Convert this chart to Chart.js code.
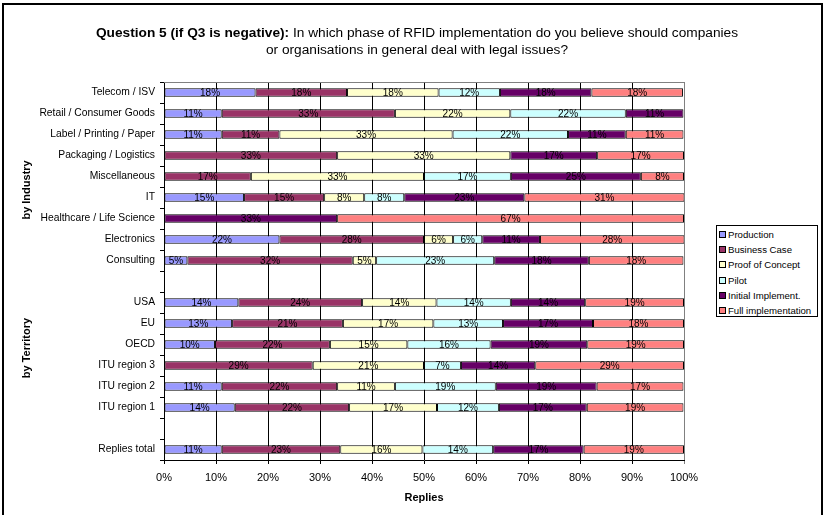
<!DOCTYPE html>
<html>
<head>
<meta charset="utf-8">
<script src="https://cdn.jsdelivr.net/npm/chart.js@4/dist/chart.umd.min.js"></script>
<style>
  body { margin: 0; background: #fff; font-family: "Liberation Sans", Arial, sans-serif; }
  #wrap { position: relative; width: 823px; height: 515px; overflow: hidden; }
  #frame { position: absolute; left: 2px; top: 3px; width: 817px; height: 530px; border: 2px solid #000; pointer-events: none; }
  #legend { position: absolute; left: 716px; top: 225px; width: 102px; height: 92px; border: 1px solid #000; background: #fff; box-sizing: border-box; padding: 1px 0 0 2px; }
  #legend div { font-size: 9.6px; height: 15.2px; line-height: 15.2px; white-space: nowrap; color: #000; }
  #legend span { display: inline-block; width: 5px; height: 5px; border: 1px solid #000; margin-right: 2px; vertical-align: 0px; }
</style>
</head>
<body>
<div id="wrap">
  <canvas id="chart" width="823" height="515"></canvas>
  <div id="legend"></div>
  <div id="frame"></div>
</div>
<script>
// Kategori (baris kosong = pemisah grup)
const categories = ["Telecom / ISV", "Retail / Consumer Goods", "Label / Printing / Paper", "Packaging / Logistics",
  "Miscellaneous", "IT", "Healthcare / Life Science", "Electronics", "Consulting", "",
  "USA", "EU", "OECD", "ITU region 3", "ITU region 2", "ITU region 1", "", "Replies total"];

const seriesNames = ["Production", "Business Case", "Proof of Concept", "Pilot", "Initial Implement.", "Full implementation"];
const seriesColors = ["#9999FF", "#993366", "#FFFFCC", "#CCFFFF", "#660066", "#FF8080"];

// Nilai (%) per fase
const production = [17.6, 11.1, 11.1, 0, 0, 15.4, 0, 22.2, 4.5, null, 14.3, 13.1, 9.8, 0, 11.1, 13.6, null, 11.1];
const businessCase = [17.6, 33.3, 11.1, 33.3, 16.7, 15.4, 0, 27.8, 31.8, null, 23.8, 21.3, 22.1, 28.6, 22.2, 22.0, null, 22.8];
const proofOfConcept = [17.6, 22.2, 33.3, 33.3, 33.3, 7.7, 0, 5.6, 4.5, null, 14.3, 17.4, 14.9, 21.4, 11.1, 16.9, null, 15.8];
const pilot = [11.8, 22.2, 22.2, 0, 16.7, 7.7, 0, 5.6, 22.7, null, 14.3, 13.4, 16.0, 7.1, 19.4, 11.9, null, 13.6];
const initialImpl = [17.6, 11.1, 11.1, 16.7, 25.0, 23.1, 33.3, 11.1, 18.2, null, 14.3, 17.3, 18.6, 14.3, 19.4, 16.9, null, 17.4];
const fullImpl = [17.6, 0, 11.1, 16.7, 8.3, 30.8, 66.7, 27.8, 18.2, null, 19.0, 17.5, 18.6, 28.6, 16.7, 18.6, null, 19.3];

const allSeries = [production, businessCase, proofOfConcept, pilot, initialImpl, fullImpl];

// Label grup di sumbu Y (posisi tengahnya dalam indeks kategori)
const groupLabels = ["by Industry", "by Territory"];
const groupCenters = [4.64, 12.17];

const titleBold = "Question 5 (if Q3 is negative):";
const titleRest = " In which phase of RFID implementation do you believe should companies";
const titleLine2 = "or organisations in general deal with legal issues?";
const xTitle = "Replies";

const FONT = "'Liberation Sans', Arial, sans-serif";

// Legend HTML
const legendEl = document.getElementById("legend");
seriesNames.forEach((name, i) => {
  const row = document.createElement("div");
  row.innerHTML = '<span style="background:' + seriesColors[i] + '"></span>' + name;
  legendEl.appendChild(row);
});

// Plugin: label persen di tengah tiap segmen, judul, label grup
const extrasPlugin = {
  id: "extras",
  afterDatasetsDraw(chart) {
    const ctx = chart.ctx;
    ctx.save();
    ctx.font = "10px " + FONT;
    ctx.fillStyle = "#000";
    ctx.textAlign = "center";
    ctx.textBaseline = "middle";
    chart.data.datasets.forEach((ds, di) => {
      const meta = chart.getDatasetMeta(di);
      meta.data.forEach((el, i) => {
        const v = ds.data[i];
        if (!v) return;
        ctx.fillText(Math.round(v) + "%", (el.x + el.base) / 2, el.y + 1);
      });
    });
    // border plot abu-abu (atas & kanan)
    const a = chart.chartArea;
    ctx.strokeStyle = "#808080";
    ctx.lineWidth = 1;
    ctx.beginPath();
    ctx.moveTo(a.left, a.top + 0.5);
    ctx.lineTo(a.right + 0.5, a.top + 0.5);
    ctx.lineTo(a.right + 0.5, a.bottom);
    ctx.stroke();
    ctx.restore();
  },
  afterDraw(chart) {
    const ctx = chart.ctx;
    ctx.save();
    ctx.fillStyle = "#000";
    ctx.textBaseline = "middle";
    // Judul
    const cx = 417;
    ctx.font = "bold 13.7px " + FONT;
    const wb = ctx.measureText(titleBold).width;
    ctx.font = "13.7px " + FONT;
    const wr = ctx.measureText(titleRest).width;
    let x0 = cx - (wb + wr) / 2;
    ctx.textAlign = "left";
    ctx.font = "bold 13.7px " + FONT;
    ctx.fillText(titleBold, x0, 33);
    ctx.font = "13.7px " + FONT;
    ctx.fillText(titleRest, x0 + wb, 33);
    ctx.textAlign = "center";
    ctx.fillText(titleLine2, cx, 50);
    // Label grup (vertikal)
    const y = chart.scales.y;
    ctx.font = "bold 11px " + FONT;
    groupLabels.forEach((g, i) => {
      const yc = y.getPixelForValue(groupCenters[i]);
      ctx.save();
      ctx.translate(27, yc);
      ctx.rotate(-Math.PI / 2);
      ctx.fillText(g, 0, 0);
      ctx.restore();
    });
    ctx.restore();
  }
};

new Chart(document.getElementById("chart"), {
  type: "bar",
  data: {
    labels: categories,
    datasets: allSeries.map((d, i) => ({
      label: seriesNames[i],
      data: d,
      backgroundColor: seriesColors[i],
      borderColor: "#000",
      borderWidth: 1,
      borderSkipped: false,
      barPercentage: 0.4,
      categoryPercentage: 1
    }))
  },
  options: {
    indexAxis: "y",
    responsive: false,
    animation: false,
    devicePixelRatio: 1,
    layout: { padding: { top: 82, right: 139, left: 0, bottom: 0 } },
    plugins: {
      legend: { display: false },
      tooltip: { enabled: false },
      title: { display: false }
    },
    scales: {
      x: {
        stacked: true,
        min: 0,
        max: 100,
        afterFit(scale) { scale.height = 55; },
        ticks: {
          stepSize: 10,
          color: "#000",
          padding: 7,
          font: { family: FONT, size: 11 },
          callback: v => v + "%"
        },
        grid: {
          color: ctx => (ctx.tick && ctx.tick.value === 100 ? "#808080" : "#000"),
          tickLength: 4,
          lineWidth: 1
        },
        border: { color: "#000" },
        title: {
          display: true,
          text: xTitle,
          color: "#000",
          font: { family: FONT, size: 11, weight: "bold" },
          padding: { top: 0, bottom: 10 }
        }
      },
      y: {
        stacked: true,
        afterFit(scale) { scale.width = 164; },
        ticks: {
          color: "#000",
          padding: 5,
          autoSkip: false,
          font: { family: FONT, size: 10.3 }
        },
        grid: {
          drawOnChartArea: false,
          offset: true,
          color: "#000",
          tickLength: 4
        },
        border: { color: "#000" }
      }
    }
  },
  plugins: [extrasPlugin]
});
</script>
</body>
</html>
